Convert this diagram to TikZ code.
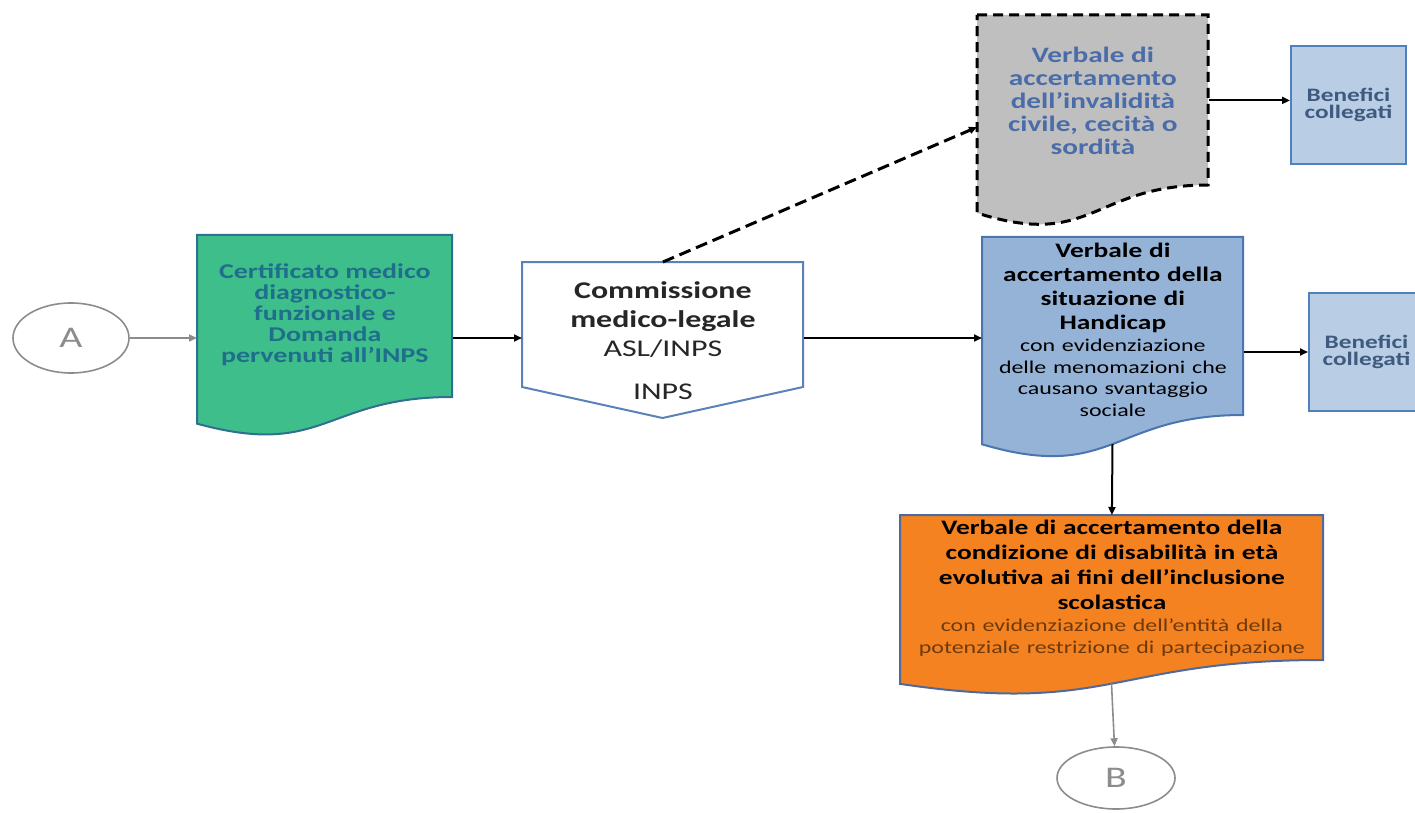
\documentclass[tikz,border=0pt]{standalone}
\usepackage{fontspec}
\usepackage{tikz}
\setmainfont{Carlito}[FakeStretch=1.33]
\usetikzlibrary{arrows.meta,shapes.geometric}
\definecolor{docgreen}{HTML}{3EBE8A}
\definecolor{greenline}{HTML}{2F6F8F}
\definecolor{greentext}{HTML}{1F6E8C}
\definecolor{comline}{HTML}{5B82B8}
\definecolor{comtext}{HTML}{262626}
\definecolor{docgray}{HTML}{BFBFBF}
\definecolor{graytext}{HTML}{4A6CA8}
\definecolor{benfill}{HTML}{B9CDE5}
\definecolor{benline}{HTML}{4F81BD}
\definecolor{bentext}{HTML}{3E5A7E}
\definecolor{hcapfill}{HTML}{95B3D7}
\definecolor{hcapline}{HTML}{4A75AE}
\definecolor{docorange}{HTML}{F58220}
\definecolor{orangeline}{HTML}{4F6A9A}
\definecolor{orangetext}{HTML}{6E3A0C}
\definecolor{connGray}{HTML}{8C8C8C}
\newcommand{\drawDoc}[6]{
    \filldraw[#5] (#1,#2) -- (#1+#3,#2) -- (#1+#3,#2+#4) .. controls (#1+0.5*#3,#2+#4) and (#1+0.5*#3,#2+1.381*#4) .. (#1,#2+1.1646*#4) coordinate[pos=0.5] (#6) -- cycle
}
\newcommand{\drawOffpage}[6]{
    \filldraw[#6] (#1,#2) -- (#1+#3,#2) -- (#1+#3,#2+#4) -- (#1+0.5*#3,#2+#4+#5) -- (#1,#2+#4) -- cycle
}
\newcommand{\blackArrow}{-{Triangle[length=4pt,width=3.5pt]}}

\begin{document}
\begin{tikzpicture}[x=0.5pt,y=-0.5pt]
            \useasboundingbox (0,0) rectangle (1415,813);

            \drawDoc{197}{235}{255}{162}{fill=docgreen, draw=greenline, line width=1pt}{cert-w};
            \drawOffpage{522}{262}{281}{125}{31}{fill=white, draw=comline, line width=1pt};
            \drawDoc{977}{15}{231}{170}{fill=docgray, draw=black, line width=1.5pt, dash pattern=on 5pt off 3pt}{ver-w};
            \drawDoc{982}{237}{261}{178}{fill=hcapfill, draw=hcapline, line width=1pt}{hcap-w};
            \drawDoc{900}{515}{423}{145}{fill=docorange, draw=orangeline, line width=1pt}{evo-w};

            \node[ellipse, draw=connGray, line width=0.8pt, minimum width=58pt, minimum height=35pt, text=connGray, font=\fontsize{15}{15}\selectfont] (A) at (71,338) {A};
            \node[ellipse, draw=connGray, line width=0.8pt, minimum width=59pt, minimum height=31pt, text=connGray, font=\fontsize{15}{15}\selectfont] (B) at (1116,778) {B};

            \node[anchor=north west, minimum width=127.5pt, minimum height=81pt, inner sep=0pt, align=center, text=greentext, font=\fontsize{10.5}{10.5}\selectfont\bfseries] (cert) at (197,233) {Certificato medico\\diagnostico-\\funzionale e\\Domanda\\pervenuti all’INPS};
            \node[anchor=north west, minimum width=140.5pt, minimum height=78pt, inner sep=0pt, align=center, text=comtext, font=\fontsize{12}{14.5}\selectfont] (com) at (522,262) {\textbf{Commissione}\\\textbf{medico-legale}\\ASL/INPS\\[7pt]INPS};
            \node[anchor=north west, minimum width=115.5pt, minimum height=85pt, inner sep=0pt, align=center, text=graytext, font=\fontsize{11}{11.5}\selectfont\bfseries] (ver) at (977,15) {Verbale di\\accertamento\\dell’invalidità\\civile, cecità o\\sordità};
            \node[anchor=north west, minimum width=130.5pt, minimum height=92.5pt, inner sep=0pt, text width=128pt, align=center, text=black] (hcap) at (982,237) {{\fontsize{10.3}{12}\selectfont\bfseries Verbale di\\accertamento della\\situazione di\\Handicap\par}{\fontsize{9}{10.8}\selectfont con evidenziazione\\delle menomazioni che\\causano svantaggio\\sociale\par}};
            \node[anchor=north west, minimum width=211.5pt, minimum height=72.5pt, inner sep=0pt, text width=209pt, align=center, text=black] (evo) at (900,515) {{\fontsize{10.3}{12.5}\selectfont\bfseries Verbale di accertamento della\\condizione di disabilità in età\\evolutiva ai fini dell’inclusione\\scolastica\par}{\fontsize{9}{11}\selectfont\color{orangetext}con evidenziazione dell’entità della\\potenziale restrizione di partecipazione\par}};
            \node[anchor=north west, draw=benline, fill=benfill, line width=1pt, minimum width=57.5pt, minimum height=59pt, inner sep=0pt, align=center, text=bentext, font=\fontsize{9.5}{8.8}\selectfont\bfseries] (ben1) at (1290,45) {Benefici\\collegati};
            \node[anchor=north west, draw=benline, fill=benfill, line width=1pt, minimum width=57.5pt, minimum height=59pt, inner sep=0pt, align=center, text=bentext, font=\fontsize{9.5}{8.8}\selectfont\bfseries] (ben2) at (1308,292) {Benefici\\collegati};

            \draw[connGray, line width=0.8pt, \blackArrow] (A) -- (A -| cert.west);
            \draw[black, line width=1pt, \blackArrow] (cert.east |- A) -- (A -| com.west);
            \draw[black, line width=1pt, \blackArrow] (com.east |- A) -- (A -| hcap.west);
            \draw[black, line width=1.5pt, dash pattern=on 6pt off 3pt, \blackArrow] (com.north) -- (ver.193);
            \draw[black, line width=1pt, \blackArrow] (ver.east) -- (ver.east -| ben1.west);
            \draw[black, line width=1pt, \blackArrow] (ben2.west -| hcap.east) -- (ben2.west);
            \draw[black, line width=1pt, \blackArrow] (hcap-w) -- (evo.north);
            \draw[connGray, line width=0.8pt, \blackArrow] (evo-w) -- (B);

        \end{tikzpicture}
\end{document}
